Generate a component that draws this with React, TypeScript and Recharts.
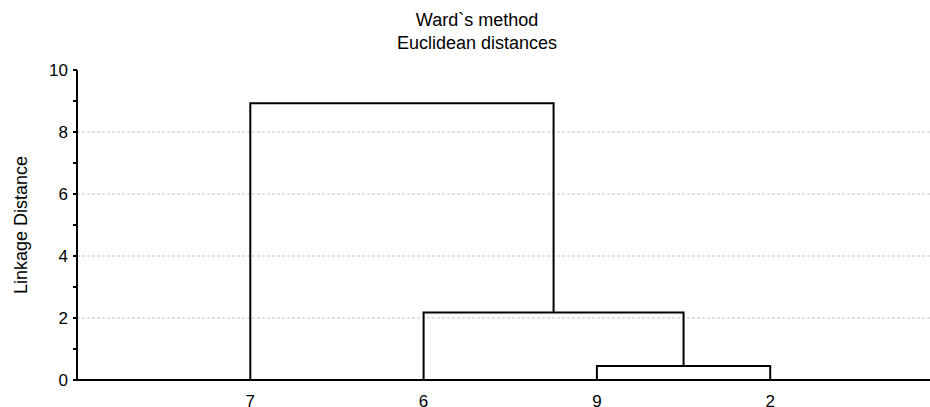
import React from 'react';
import {
  LineChart,
  Line,
  XAxis,
  YAxis,
  ReferenceLine,
} from 'recharts';

// leaves in display order (position 1..4 on the x axis)
const leafLabels = ['7', '6', '9', '2'];
// merges, scipy style: ids 0..3 are leaves, each merge makes id 4, 5, 6
const mergeA = [2, 1, 0];
const mergeB = [3, 4, 5];
const mergeHeight = [0.45, 2.18, 8.93];

const yTicks = [0, 1, 2, 3, 4, 5, 6, 7, 8, 9, 10];
const gridValues = [2, 4, 6, 8];
const xTicks = [1, 2, 3, 4];

const FONT = '"Liberation Sans", Arial, sans-serif';

// build the U-shaped links from the merge table
const nodeX: number[] = leafLabels.map((_, i) => i + 1);
const nodeY: number[] = leafLabels.map(() => 0);
const links = mergeA.map((a, i) => {
  const b = mergeB[i];
  const h = mergeHeight[i];
  const pts = [
    { x: nodeX[a], y: nodeY[a] },
    { x: nodeX[a], y: h },
    { x: nodeX[b], y: h },
    { x: nodeX[b], y: nodeY[b] },
  ];
  nodeX.push((nodeX[a] + nodeX[b]) / 2);
  nodeY.push(h);
  return pts;
});

export default function App() {
  return (
    <div
      style={{
        position: 'absolute',
        left: 0,
        top: 0,
        width: 930,
        height: 407,
        overflow: 'hidden',
        background: '#fff',
        fontFamily: FONT,
      }}
    >
      <div
        style={{
          position: 'absolute',
          left: 277,
          width: 400,
          top: 9,
          textAlign: 'center',
          fontSize: 18,
          lineHeight: '23px',
          color: '#000',
        }}
      >
        <div>Ward`s method</div>
        <div>Euclidean distances</div>
      </div>
      <LineChart
        width={960}
        height={407}
        margin={{ top: 70, right: 16.5, left: 0, bottom: 0 }}
        style={{ position: 'absolute', left: 0, top: 0, fontSize: 17, fontFamily: FONT }}
      >
        {gridValues.map((v) => (
          <ReferenceLine
            key={v}
            y={v}
            xAxisId="bottom"
            stroke="#c4c4c4"
            strokeDasharray="3 2"
            strokeWidth={1}
          />
        ))}
        <XAxis
          xAxisId="bottom"
          dataKey="x"
          type="number"
          domain={[0, 5]}
          ticks={xTicks}
          allowDataOverflow
          height={27}
          tickLine={false}
          tickSize={6}
          tickMargin={9}
          fontSize={17}
          tickFormatter={(v) => leafLabels[v - 1] ?? ''}
          tick={{ fill: '#000', fontSize: 17, fontFamily: FONT }}
          axisLine={{ stroke: '#000', strokeWidth: 2 }}
        />
        <XAxis
          xAxisId="top"
          orientation="top"
          type="number"
          domain={[0, 5]}
          ticks={xTicks}
          allowDataOverflow
          height={0}
          tickSize={-5}
          tickFormatter={() => ''}
          tickLine={{ stroke: '#000', strokeWidth: 2 }}
          axisLine={{ stroke: '#000', strokeWidth: 2 }}
        />
        <YAxis
          type="number"
          domain={[0, 10]}
          ticks={yTicks}
          interval={0}
          width={77}
          tickSize={4}
          tickMargin={5}
          fontSize={17}
          tickFormatter={(v) => (v % 2 === 0 ? String(v) : '')}
          tick={{ fill: '#000', fontSize: 17, fontFamily: FONT }}
          tickLine={{ stroke: '#000', strokeWidth: 2 }}
          axisLine={{ stroke: '#000', strokeWidth: 2 }}
          label={{
            value: 'Linkage Distance',
            angle: -90,
            position: 'insideLeft',
            offset: 21,
            fontSize: 18,
            fill: '#000',
            style: { textAnchor: 'middle', fill: '#000', fontSize: 18, fontFamily: FONT },
          }}
        />
        {links.map((pts, i) => (
          <Line
            key={i}
            xAxisId="bottom"
            data={pts}
            dataKey="y"
            type="linear"
            stroke="#000"
            strokeWidth={2}
            dot={false}
            activeDot={false}
            isAnimationActive={false}
          />
        ))}
      </LineChart>
    </div>
  );
}
